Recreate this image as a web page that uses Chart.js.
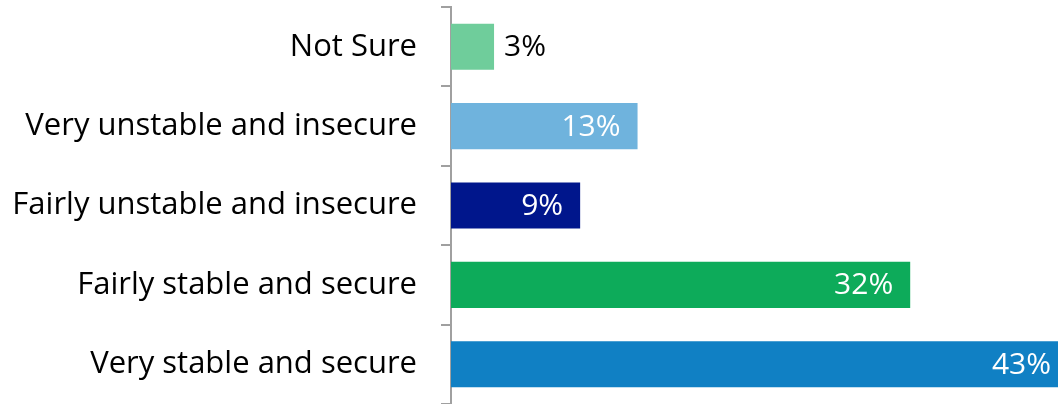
<!DOCTYPE html>
<html>
<head>
<meta charset="utf-8">
<script src="https://cdn.jsdelivr.net/npm/chart.js@4"></script>
<style>
  html, body { margin: 0; padding: 0; background: #ffffff; }
  #wrap { width: 1058px; height: 404px; position: relative; }
</style>
</head>
<body>
<div id="wrap"><canvas id="chart"></canvas></div>
<script>
// categories and values, top to bottom
const categories = [
    'Not Sure',
    'Very unstable and insecure',
    'Fairly unstable and insecure',
    'Fairly stable and secure',
    'Very stable and secure'
];
const percentages = [3, 13, 9, 32, 43];
const barColors = ['#6fcd9b', '#6fb3dd', '#00168c', '#0dab5a', '#1080c4'];
// bars that are too short get their label outside, in black
const labelOutside = [true, false, false, false, false];

// draws the "NN%" value labels
const valueLabels = {
    id: 'valueLabels',
    afterDatasetsDraw(chart) {
        const ctx = chart.ctx;
        const meta = chart.getDatasetMeta(0);
        ctx.save();
        ctx.textBaseline = 'middle';
        ctx.font = '30px "Open Sans", sans-serif';
        meta.data.forEach(function (bar, i) {
            const text = percentages[i] + '%';
            if (labelOutside[i]) {
                ctx.fillStyle = '#000000';
                ctx.textAlign = 'left';
                ctx.fillText(text, bar.x + 10, bar.y + 1);
            } else {
                ctx.fillStyle = '#ffffff';
                ctx.textAlign = 'right';
                ctx.fillText(text, bar.x - 17, bar.y + 1);
            }
        });
        ctx.restore();
    }
};

new Chart(document.getElementById('chart'), {
    type: 'bar',
    data: {
        labels: categories,
        datasets: [{
            data: percentages,
            backgroundColor: barColors,
            borderWidth: 0,
            categoryPercentage: 1,
            barPercentage: 0.58
        }]
    },
    options: {
        indexAxis: 'y',
        responsive: true,
        maintainAspectRatio: false,
        animation: false,
        layout: { padding: { top: 7, bottom: 0, left: 0, right: 0 } },
        plugins: {
            legend: { display: false },
            tooltip: { enabled: false }
        },
        scales: {
            x: {
                display: false,
                min: 0,
                max: 42.3
            },
            y: {
                afterFit: function (scale) {
                    scale.width = 451;
                    scale.paddingTop = 0;
                    scale.paddingBottom = 0;
                },
                border: { color: '#a0a0a0', width: 2 },
                grid: {
                    drawOnChartArea: false,
                    tickLength: 10,
                    color: '#a0a0a0',
                    lineWidth: 2,
                    offset: true
                },
                ticks: {
                    color: '#000000',
                    padding: 24,
                    font: { family: '"Open Sans", sans-serif', size: 31 }
                }
            }
        }
    },
    plugins: [valueLabels]
});
</script>
</body>
</html>
